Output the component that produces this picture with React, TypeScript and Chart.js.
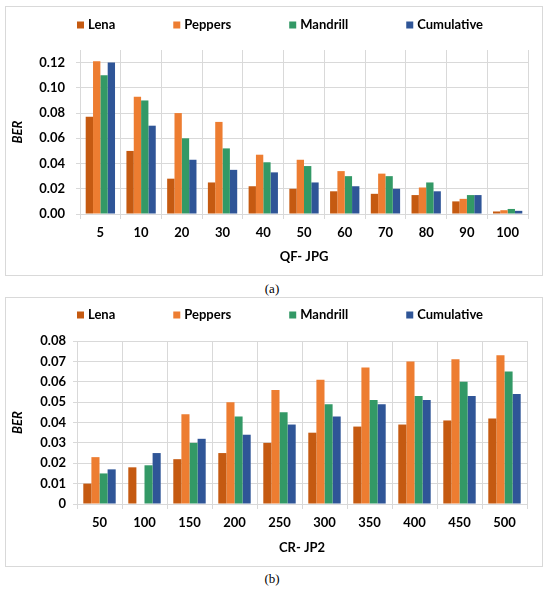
import React, { useEffect, useRef } from 'react';
import { Chart, registerables } from 'chart.js';

Chart.register(...registerables);

// (a) QF - JPG
const qfLabels = ['5', '10', '20', '30', '40', '50', '60', '70', '80', '90', '100'];
const qfLena = [0.077, 0.05, 0.028, 0.025, 0.022, 0.02, 0.018, 0.016, 0.015, 0.01, 0.002];
const qfPeppers = [0.121, 0.093, 0.08, 0.073, 0.047, 0.043, 0.034, 0.032, 0.021, 0.012, 0.003];
const qfMandrill = [0.11, 0.09, 0.06, 0.052, 0.041, 0.038, 0.03, 0.03, 0.025, 0.015, 0.004];
const qfCumulative = [0.12, 0.07, 0.043, 0.035, 0.033, 0.025, 0.022, 0.02, 0.018, 0.015, 0.0025];

// (b) CR - JP2
const crLabels = ['50', '100', '150', '200', '250', '300', '350', '400', '450', '500'];
const crLena = [0.01, 0.018, 0.022, 0.025, 0.03, 0.035, 0.038, 0.039, 0.041, 0.042];
const crPeppers = [0.023, 0, 0.044, 0.05, 0.056, 0.061, 0.067, 0.07, 0.071, 0.073];
const crMandrill = [0.015, 0.019, 0.03, 0.043, 0.045, 0.049, 0.051, 0.053, 0.06, 0.065];
const crCumulative = [0.017, 0.025, 0.032, 0.034, 0.039, 0.043, 0.049, 0.051, 0.053, 0.054];

const seriesNames = ['Lena', 'Peppers', 'Mandrill', 'Cumulative'];
const seriesColors = ['#c55a11', '#ed7d31', '#339966', '#2f5597'];

const GRID = '#d9d9d9';
const FONT = 'Lato, "Open Sans", sans-serif';

// Excel-like legend: items spread out on one line above the plot
const spreadLegend = (cy: number) => ({
    id: 'spreadLegend',
    afterDraw(chart: any) {
        const ctx = chart.ctx;
        ctx.save();
        ctx.font = `bold 13px ${FONT}`;
        ctx.textBaseline = 'middle';
        const items = chart.data.datasets.map((d: any) => ({
            text: d.label,
            color: d.backgroundColor,
            w: ctx.measureText(d.label).width,
        }));
        const gap = 58;
        const total = items.reduce((s: number, it: any) => s + 11 + it.w, 0) + gap * (items.length - 1);
        let x = (chart.width - total) / 2 + 6;
        items.forEach((it: any) => {
            ctx.fillStyle = it.color;
            ctx.fillRect(x, cy - 3.5, 7, 7);
            ctx.fillStyle = '#000';
            ctx.fillText(it.text, x + 11, cy);
            x += 11 + it.w + gap;
        });
        ctx.restore();
    },
});

type PanelProps = {
    labels: string[];
    series: number[][];
    xTitle: string;
    yMax: number;
    yStep: number;
    fmt: (v: number) => string;
    plotLeft: number;
    plotRight: number;
    xHeight: number;
    yPad: number;
    legendY: number;
};

const BarPanel: React.FC<PanelProps> = (p) => {
    const canvasRef = useRef<HTMLCanvasElement>(null);

    useEffect(() => {
        const ctx = canvasRef.current?.getContext('2d');
        if (!ctx) return;
        const chart = new Chart(ctx, {
            type: 'bar',
            data: {
                labels: p.labels,
                datasets: p.series.map((data, i) => ({
                    label: seriesNames[i],
                    data,
                    backgroundColor: seriesColors[i],
                    borderWidth: 0,
                    categoryPercentage: 0.72,
                    barPercentage: 1.0,
                })),
            },
            options: {
                animation: false,
                responsive: true,
                maintainAspectRatio: false,
                layout: { padding: { top: 43, right: p.plotRight, left: 0, bottom: 0 } },
                plugins: {
                    legend: { display: false },
                    tooltip: { enabled: false },
                },
                scales: {
                    x: {
                        grid: { color: GRID, offset: true, tickLength: 5 },
                        border: { color: GRID },
                        ticks: { color: '#000', font: { family: FONT, size: 13, weight: 'bold' }, padding: 6 },
                        title: {
                            display: true,
                            text: p.xTitle,
                            color: '#000',
                            font: { family: FONT, size: 13, weight: 'bold' },
                            padding: { top: 0, bottom: 10 },
                        },
                        afterFit: (s: any) => {
                            s.height = p.xHeight;
                        },
                    },
                    y: {
                        min: 0,
                        max: p.yMax,
                        grid: { color: GRID, tickLength: 4 },
                        border: { color: GRID },
                        ticks: {
                            stepSize: p.yStep,
                            includeBounds: false,
                            color: '#000',
                            padding: p.yPad,
                            font: { family: FONT, size: 13, weight: 'bold' },
                            callback: (v: any) => p.fmt(Number(v)),
                        },
                        title: {
                            display: true,
                            text: 'BER',
                            color: '#000',
                            font: { family: FONT, size: 13, weight: 'bold', style: 'italic' },
                            padding: { top: 4, bottom: 0 },
                        },
                        afterFit: (s: any) => {
                            s.width = p.plotLeft;
                        },
                    },
                },
            },
            plugins: [spreadLegend(p.legendY)],
        } as any);
        return () => chart.destroy();
    }, [p]);

    return <canvas ref={canvasRef}></canvas>;
};

const boxStyle = (top: number): React.CSSProperties => ({
    position: 'absolute',
    left: 5,
    top,
    width: 536,
    height: 268,
    border: `1px solid ${GRID}`,
});

const captionStyle = (top: number): React.CSSProperties => ({
    position: 'absolute',
    left: 0,
    top,
    width: 544,
    textAlign: 'center',
    fontFamily: '"Liberation Serif", serif',
    fontSize: 13,
    lineHeight: '16px',
    color: '#000',
});

const panelA: PanelProps = {
    labels: qfLabels,
    series: [qfLena, qfPeppers, qfMandrill, qfCumulative],
    xTitle: 'QF- JPG',
    yMax: 0.13,
    yStep: 0.02,
    fmt: (v) => v.toFixed(2),
    plotLeft: 74,
    plotRight: 14,
    xHeight: 61,
    yPad: 11,
    legendY: 18,
};

const panelB: PanelProps = {
    labels: crLabels,
    series: [crLena, crPeppers, crMandrill, crCumulative],
    xTitle: 'CR- JP2',
    yMax: 0.08,
    yStep: 0.01,
    fmt: (v) => (v === 0 ? '0' : v.toFixed(2)),
    plotLeft: 71,
    plotRight: 15,
    xHeight: 62,
    yPad: 7,
    legendY: 17,
};

export default function App() {
    return (
        <div style={{ position: 'absolute', left: 0, top: 0, width: 550, height: 591, background: '#fff' }}>
            <div style={boxStyle(6)}>
                <BarPanel {...panelA} />
            </div>
            <div style={captionStyle(281)}>(a)</div>
            <div style={boxStyle(297)}>
                <BarPanel {...panelB} />
            </div>
            <div style={captionStyle(571)}>(b)</div>
        </div>
    );
}
